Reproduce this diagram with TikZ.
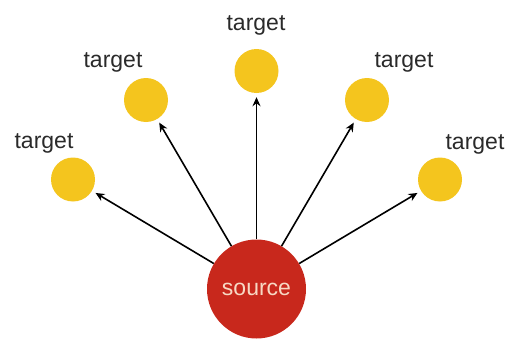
\documentclass[tikz,border=0pt]{standalone}
\usepackage{fontspec}
\setmainfont{Liberation Sans}
\usetikzlibrary{arrows.meta}
\definecolor{srcred}{HTML}{C8281C}
\definecolor{tgtyellow}{HTML}{F4C51E}
\definecolor{srctext}{HTML}{F7D9C4}
\definecolor{labelgray}{HTML}{2A2A2A}
\begin{document}
\begin{tikzpicture}[x=1pt,y=-1pt,
  tgt/.style={circle,fill=tgtyellow,minimum size=44pt,inner sep=0pt},
  src/.style={circle,fill=srcred,minimum size=99pt,inner sep=0pt,
    text=srctext,font=\fontsize{23}{26}\selectfont},
  lbl/.style={text=labelgray,font=\fontsize{23}{26}\selectfont,inner sep=0pt},
  link/.style={-{Stealth[length=9pt,width=8pt]},line width=1.6pt,shorten >=4pt}]
\useasboundingbox (0,0) rectangle (507,340);
% source
\node[src] (s) at (256.5,289) {source};
% targets
\node[tgt] (t1) at (73,179.5) {};
\node[tgt] (t2) at (146,100) {};
\node[tgt] (t3) at (256.5,71) {};
\node[tgt] (t4) at (367,100) {};
\node[tgt] (t5) at (440,179.5) {};
% labels
\node[lbl] (l1) at (44,143) {target};
\node[lbl] (l2) at (113,62) {target};
\node[lbl] (l3) at (256,25) {target};
\node[lbl] (l4) at (404,62) {target};
\node[lbl] (l5) at (475,144) {target};
% connectors
\foreach \t in {t1,t2,t3,t4,t5}
  \draw[link] (s) -- (\t);
\end{tikzpicture}
\end{document}
